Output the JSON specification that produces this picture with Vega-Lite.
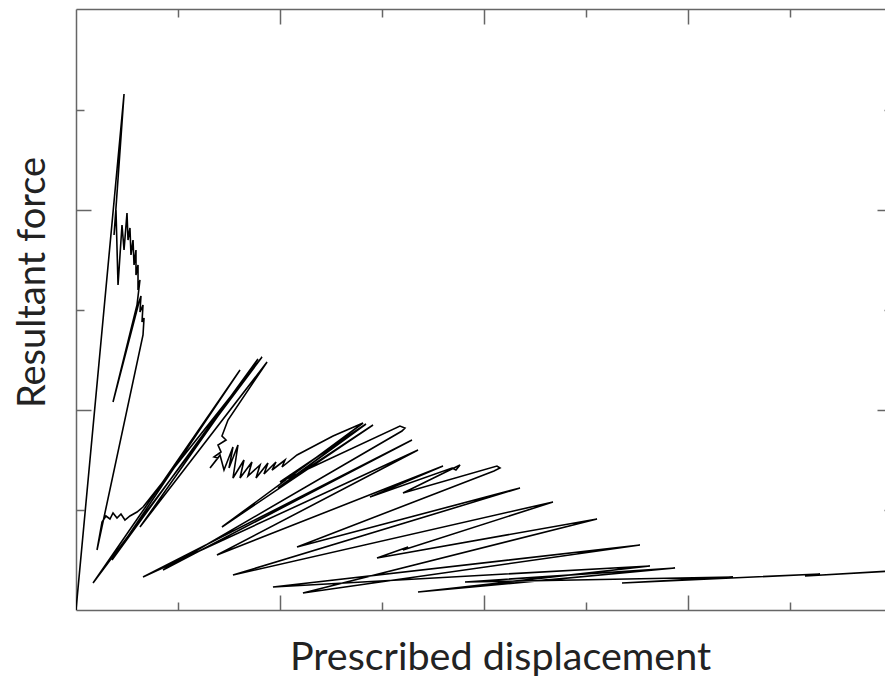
{
  "$schema": "https://vega.github.io/schema/vega-lite/v6.json",
  "autosize": "none",
  "width": 816,
  "height": 601,
  "padding": {"left": 76, "top": 9, "right": 0, "bottom": 66},
  "background": "white",
  "config": {"view": {"stroke": null}},
  "data": {"values": [
    {"i":1,"d":0,"f":0},{"i":2,"d":0.471,"f":5.16},{"i":3,"d":0.373,"f":3.75},{"i":4,"d":0.392,"f":4.0},
    {"i":5,"d":0.412,"f":3.25},{"i":6,"d":0.451,"f":3.85},{"i":7,"d":0.471,"f":3.6},{"i":8,"d":0.5,"f":3.97},
    {"i":9,"d":0.51,"f":3.7},{"i":10,"d":0.529,"f":3.82},{"i":11,"d":0.539,"f":3.55},{"i":12,"d":0.559,"f":3.7},
    {"i":13,"d":0.569,"f":3.45},{"i":14,"d":0.588,"f":3.6},{"i":15,"d":0.588,"f":3.35},{"i":16,"d":0.608,"f":3.45},
    {"i":17,"d":0.608,"f":3.2},{"i":18,"d":0.627,"f":3.3},{"i":19,"d":0.598,"f":3.05},{"i":20,"d":0.363,"f":2.08},
    {"i":21,"d":0.618,"f":3.08},{"i":22,"d":0.637,"f":3.14},{"i":23,"d":0.627,"f":2.98},{"i":24,"d":0.657,"f":3.05},
    {"i":25,"d":0.647,"f":2.88},{"i":26,"d":0.667,"f":2.92},{"i":27,"d":0.657,"f":2.75},{"i":28,"d":0.206,"f":0.6},
    {"i":29,"d":0.255,"f":0.88},{"i":30,"d":0.294,"f":0.94},{"i":31,"d":0.333,"f":0.91},{"i":32,"d":0.363,"f":0.97},
    {"i":33,"d":0.402,"f":0.92},{"i":34,"d":0.441,"f":0.96},{"i":35,"d":0.48,"f":0.9},{"i":36,"d":0.529,"f":0.94},
    {"i":37,"d":0.598,"f":0.98},{"i":38,"d":0.657,"f":1.03},{"i":39,"d":1.824,"f":2.53},{"i":40,"d":0.167,"f":0.27},
    {"i":41,"d":1.608,"f":2.4},{"i":42,"d":0.353,"f":0.5},{"i":43,"d":1.784,"f":2.51},{"i":44,"d":0.627,"f":0.83},
    {"i":45,"d":1.873,"f":2.48},{"i":46,"d":1.49,"f":1.9},{"i":47,"d":1.431,"f":1.74},{"i":48,"d":1.471,"f":1.7},
    {"i":49,"d":1.392,"f":1.65},{"i":50,"d":1.422,"f":1.58},{"i":51,"d":1.353,"f":1.53},{"i":52,"d":1.392,"f":1.52},
    {"i":53,"d":1.314,"f":1.42},{"i":54,"d":1.412,"f":1.55},{"i":55,"d":1.451,"f":1.4},{"i":56,"d":1.539,"f":1.63},
    {"i":57,"d":1.5,"f":1.42},{"i":58,"d":1.588,"f":1.65},{"i":59,"d":1.539,"f":1.32},{"i":60,"d":1.647,"f":1.5},
    {"i":61,"d":1.608,"f":1.32},{"i":62,"d":1.725,"f":1.48},{"i":63,"d":1.686,"f":1.34},{"i":64,"d":1.804,"f":1.45},
    {"i":65,"d":1.765,"f":1.32},{"i":66,"d":1.882,"f":1.47},{"i":67,"d":1.843,"f":1.36},{"i":68,"d":1.961,"f":1.48},
    {"i":69,"d":1.922,"f":1.4},{"i":70,"d":2.049,"f":1.5},{"i":71,"d":2.02,"f":1.43},{"i":72,"d":2.167,"f":1.55},
    {"i":73,"d":2.52,"f":1.74},{"i":74,"d":2.814,"f":1.87},{"i":75,"d":1.431,"f":0.83},{"i":76,"d":2.912,"f":1.85},
    {"i":77,"d":1.98,"f":1.22},{"i":78,"d":2.843,"f":1.86},{"i":79,"d":2.0,"f":1.28},{"i":80,"d":3.176,"f":1.84},
    {"i":81,"d":3.225,"f":1.82},{"i":82,"d":3.196,"f":1.79},{"i":83,"d":0.853,"f":0.4},{"i":84,"d":3.294,"f":1.7},
    {"i":85,"d":0.657,"f":0.33},{"i":86,"d":3.353,"f":1.6},{"i":87,"d":1.382,"f":0.55},{"i":88,"d":3.598,"f":1.44},
    {"i":89,"d":2.882,"f":1.13},{"i":90,"d":3.686,"f":1.42},{"i":91,"d":3.725,"f":1.4},{"i":92,"d":3.765,"f":1.45},
    {"i":93,"d":3.206,"f":1.17},{"i":94,"d":4.127,"f":1.44},{"i":95,"d":4.157,"f":1.42},{"i":96,"d":4.098,"f":1.39},
    {"i":97,"d":2.167,"f":0.63},{"i":98,"d":4.353,"f":1.22},{"i":99,"d":1.539,"f":0.35},{"i":100,"d":4.676,"f":1.08},
    {"i":101,"d":3.206,"f":0.6},{"i":102,"d":3.255,"f":0.63},{"i":103,"d":2.951,"f":0.52},{"i":104,"d":5.108,"f":0.91},
    {"i":105,"d":2.225,"f":0.17},{"i":106,"d":5.529,"f":0.65},{"i":107,"d":1.931,"f":0.23},{"i":108,"d":5.627,"f":0.44},
    {"i":109,"d":3.353,"f":0.18},{"i":110,"d":5.873,"f":0.42},{"i":111,"d":3.814,"f":0.28},{"i":112,"d":6.441,"f":0.33},
    {"i":113,"d":5.353,"f":0.27},{"i":114,"d":7.294,"f":0.36},{"i":115,"d":7.147,"f":0.34},{"i":116,"d":8.0,"f":0.39}
  ]},
  "resolve": {"axis": {"x": "independent", "y": "independent"}},
  "layer": [
    {
      "mark": {"type": "line", "color": "black", "strokeWidth": 1.6, "strokeJoin": "miter", "clip": true},
      "encoding": {
        "x": {"field": "d", "type": "quantitative", "scale": {"domain": [0, 8], "nice": false, "zero": false},
          "axis": {"orient": "bottom", "values": [1,2,3,4,5,6,7], "labels": false, "grid": false,
            "tickSize": {"condition": {"test": "datum.value % 2 === 0", "value": -15}, "value": -8},
            "tickColor": "#666", "tickWidth": 1.5, "domainColor": "#666", "domainWidth": 1.5,
            "title": "Prescribed displacement", "titleFont": "Lato", "titleFontSize": 39.5, "titleFontWeight": "normal",
            "titleColor": "#222", "titleX": 424, "titleY": 28, "titleAlign": "center", "titleBaseline": "top"}},
        "y": {"field": "f", "type": "quantitative", "scale": {"domain": [0, 6.01], "nice": false, "zero": false},
          "axis": {"orient": "left", "values": [1,2,3,4,5], "labels": false, "grid": false,
            "tickSize": {"condition": {"test": "datum.value % 2 === 0", "value": -15}, "value": -8},
            "tickColor": "#666", "tickWidth": 1.5, "domainColor": "#666", "domainWidth": 1.5,
            "title": "Resultant force", "titleFont": "Lato", "titleFontSize": 38, "titleFontWeight": "normal",
            "titleColor": "#222", "titleX": -24, "titleY": 273, "titleAngle": -90, "titleAlign": "center", "titleBaseline": "bottom"}},
        "order": {"field": "i", "type": "quantitative"}
      }
    },
    {
      "mark": {"type": "line", "opacity": 0},
      "encoding": {
        "x": {"field": "d", "type": "quantitative",
          "axis": {"orient": "top", "values": [1,2,3,4,5,6,7], "labels": false, "grid": false, "title": null,
            "tickSize": {"condition": {"test": "datum.value % 2 === 0", "value": -15}, "value": -8},
            "tickColor": "#666", "tickWidth": 1.5, "domainColor": "#666", "domainWidth": 1.5}},
        "y": {"field": "f", "type": "quantitative",
          "axis": {"orient": "right", "values": [1,2,3,4,5], "labels": false, "grid": false, "title": null,
            "tickSize": {"condition": {"test": "datum.value % 2 === 0", "value": -15}, "value": -8},
            "tickColor": "#666", "tickWidth": 1.5, "domainColor": "#666", "domainWidth": 1.5}},
        "order": {"field": "i", "type": "quantitative"}
      }
    }
  ]
}
